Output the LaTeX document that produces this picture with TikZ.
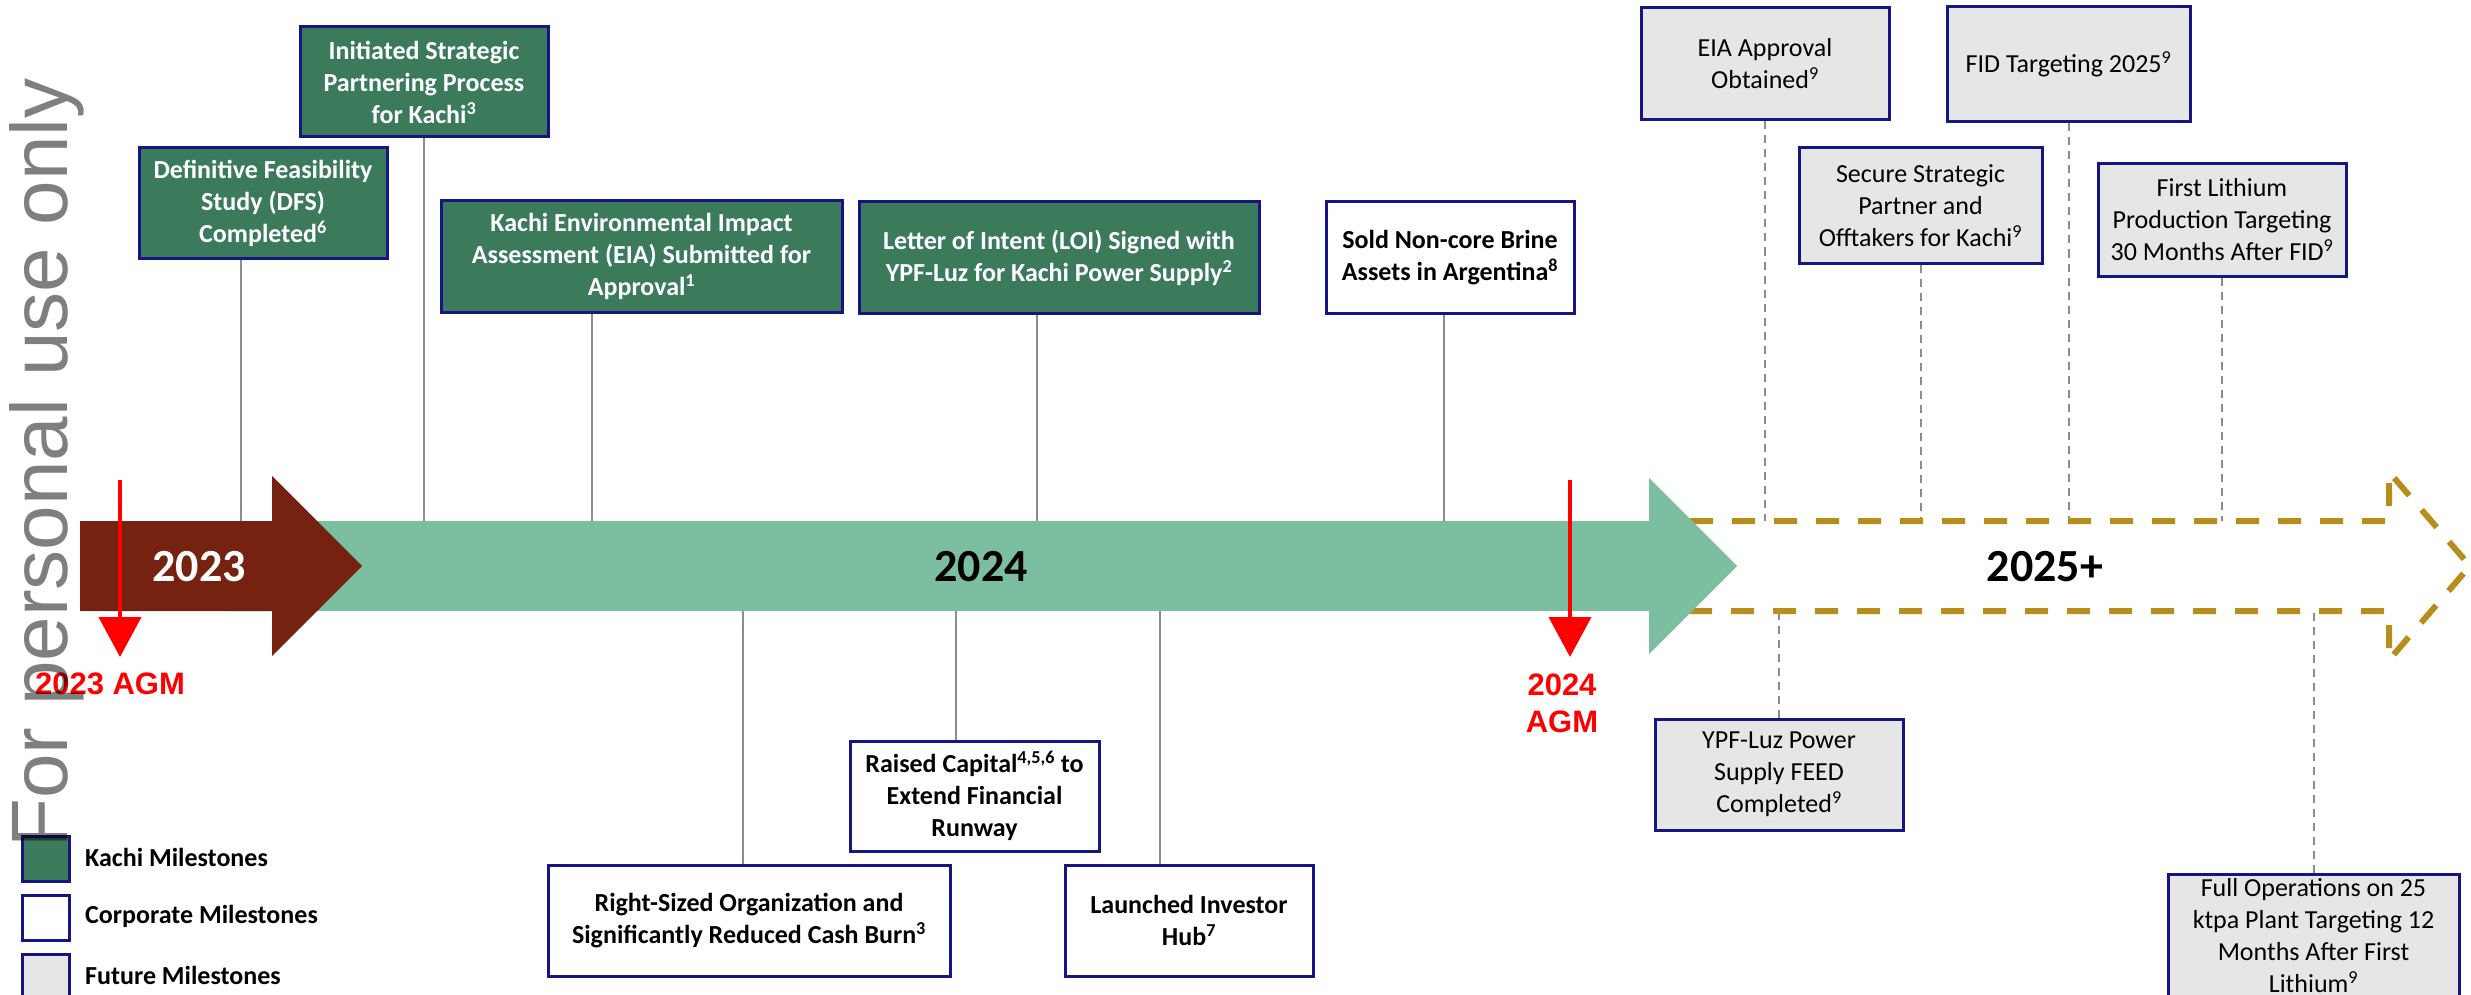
\documentclass[tikz,border=0pt]{standalone}
\usepackage{fontspec}
\setmainfont{Carlito}
\newfontfamily\calfam{Carlito}
\newfontfamily\arfam{Liberation Sans}
\usetikzlibrary{arrows.meta}
\definecolor{kgreen}{RGB}{59,123,92}
\definecolor{bargreen}{RGB}{123,191,160}
\definecolor{brownarr}{RGB}{117,35,16}
\definecolor{navyb}{RGB}{22,22,130}
\definecolor{fgray}{RGB}{230,230,230}
\definecolor{cgray}{RGB}{140,140,140}
\definecolor{goldd}{RGB}{184,142,26}
\newcommand\boxbold{\calfam\bfseries\fontsize{26}{32}\selectfont}
\newcommand\boxreg{\calfam\fontsize{26}{32}\selectfont}
\newcommand\yearfont{\calfam\bfseries\fontsize{46}{52}\selectfont}
\newcommand\agmfont{\arfam\bfseries\fontsize{31}{37}\selectfont}
\newcommand\wmfont{\arfam\fontsize{80}{96}\selectfont}
\tikzset{
  mbox/.style={draw=navyb, line width=3pt, align=center, inner sep=0pt},
  kachi/.style={mbox, fill=kgreen, text=white, font=\boxbold},
  corp/.style={mbox, fill=white, text=black, font=\boxbold},
  future/.style={mbox, fill=fgray, text=black, font=\boxreg},
  conn/.style={draw=cgray, line width=2pt},
  dconn/.style={draw=cgray, line width=2pt, dash pattern=on 8pt off 6pt},
  redarr/.style={draw=red, line width=4pt, -{Triangle[width=42pt,length=40pt]}},
  legbox/.style={draw=navyb, line width=3pt, minimum width=47pt, minimum height=45pt, inner sep=0pt},
  legtxt/.style={anchor=west, font=\boxbold, text=black, inner sep=0pt},
}
\begin{document}
\begin{tikzpicture}[x=1pt,y=-1pt]
\useasboundingbox (0,0) rectangle (2471,995);
% reference coordinates
\coordinate (bartop) at (0,521);
\coordinate (barbot) at (0,611);
\coordinate (dtop) at (0,521);
\coordinate (dbot) at (0,611);

% ---- boxes (defined first for names, drawn on top later via layering order)
% Kachi
\node[kachi, minimum width=248pt, minimum height=110pt] (dfs) at (263,203) {Definitive Feasibility\\Study (DFS)\\Completed\textsuperscript{6}};
\node[kachi, minimum width=248pt, minimum height=110pt] (isp) at (424,82) {Initiated Strategic\\Partnering Process\\for Kachi\textsuperscript{3}};
\node[kachi, minimum width=401pt, minimum height=111pt] (eia) at (641.5,256.5) {Kachi Environmental Impact\\Assessment (EIA) Submitted for\\Approval\textsuperscript{1}};
\node[kachi, minimum width=400pt, minimum height=111pt] (loi) at (1059,257.5) {Letter of Intent (LOI) Signed with\\YPF-Luz for Kachi Power Supply\textsuperscript{2}};
% Corporate
\node[corp, minimum width=248pt, minimum height=111pt] (sold) at (1450,257.5) {Sold Non-core Brine\\Assets in Argentina\textsuperscript{8}};
\node[corp, minimum width=402pt, minimum height=111pt] (rso) at (749,920.5) {Right-Sized Organization and\\Significantly Reduced Cash Burn\textsuperscript{3}};
\node[corp, minimum width=249pt, minimum height=110pt] (rc) at (974.5,796) {Raised Capital\textsuperscript{4,5,6} to\\Extend Financial\\Runway};
\node[corp, minimum width=248pt, minimum height=111pt] (lih) at (1189,920.5) {Launched Investor\\Hub\textsuperscript{7}};
% Future
\node[future, minimum width=248pt, minimum height=112pt] (eiaa) at (1765,64) {EIA Approval\\Obtained\textsuperscript{9}};
\node[future, minimum width=243pt, minimum height=115pt] (fid) at (2068.5,64.5) {FID Targeting 2025\textsuperscript{9}};
\node[future, minimum width=243pt, minimum height=115pt] (ssp) at (1920.5,205.5) {Secure Strategic\\Partner and\\Offtakers for Kachi\textsuperscript{9}};
\node[future, minimum width=248pt, minimum height=112pt] (fli) at (2222,220) {First Lithium\\Production Targeting\\30 Months After FID\textsuperscript{9}};
\node[future, minimum width=248pt, minimum height=111pt] (ypf) at (1779,774.5) {YPF-Luz Power\\Supply FEED\\Completed\textsuperscript{9}};
\node[future, minimum width=291pt, minimum height=123pt] (fop) at (2313.5,935.5) {Full Operations on 25\\ktpa Plant Targeting 12\\Months After First\\Lithium\textsuperscript{9}};

% ---- connectors
\path ([xshift=-22pt]dfs.south) coordinate (c1);
\path ([xshift=-50pt]eia.south) coordinate (c3);
\path ([xshift=-22pt]loi.south) coordinate (c4);
\path ([xshift=-6pt]sold.south) coordinate (c5);
\path ([xshift=-6pt]rso.north) coordinate (c6);
\path ([xshift=-19pt]rc.north) coordinate (c7);
\path ([xshift=-29pt]lih.north) coordinate (c8);
\draw[conn] (c1) -- (c1 |- bartop);
\draw[conn] (isp.south) -- (isp.south |- bartop);
\draw[conn] (c3) -- (c3 |- bartop);
\draw[conn] (c4) -- (c4 |- bartop);
\draw[conn] (c5) -- (c5 |- bartop);
\draw[conn] (c6) -- (c6 |- barbot);
\draw[conn] (c7) -- (c7 |- barbot);
\draw[conn] (c8) -- (c8 |- barbot);
\draw[dconn] (eiaa.south) -- (eiaa.south |- dtop);
\draw[dconn] (fid.south) -- (fid.south |- dtop);
\draw[dconn] (ssp.south) -- (ssp.south |- dtop);
\draw[dconn] (fli.south) -- (fli.south |- dtop);
\draw[dconn] (ypf.north) -- (ypf.north |- dbot);
\draw[dconn] (fop.north) -- (fop.north |- dbot);

% ---- timeline arrows
\draw[goldd, line width=6pt, dash pattern=on 23pt off 19pt]
  (1690,521) -- (2389,521) -- (2389,472) -- (2470,566) -- (2389,660) -- (2389,611) -- (1690,611);
\fill[bargreen] (230,521) -- (1649,521) -- (1649,478) -- (1737,566) -- (1649,654) -- (1649,611) -- (230,611) -- cycle;
\fill[brownarr] (80,521) -- (272,521) -- (272,476) -- (362,566) -- (272,656) -- (272,611) -- (80,611) -- cycle;
\node[font=\yearfont, text=white, inner sep=0pt] (y23) at (199,567) {2023};
\node[font=\yearfont, text=black, inner sep=0pt] (y24) at (981,567) {2024};
\node[font=\yearfont, text=black, inner sep=0pt] (y25) at (2045,567) {2025+};

% ---- redraw boxes on top (same nodes) -- boxes already drawn before arrows; arrows do not overlap them

% ---- AGM markers
\coordinate (a1s) at (120,480);
\coordinate (a1e) at (120,657);
\coordinate (a2s) at (1570,480);
\coordinate (a2e) at (1570,657);
\draw[redarr] (a1s) -- (a1e);
\draw[redarr] (a2s) -- (a2e);
\node[font=\agmfont, text=red, inner sep=0pt] (agm1) at (110,684) {2023 AGM};
\node[font=\agmfont, text=red, inner sep=0pt, align=center] (agm2) at (1562,703) {2024\\AGM};

% ---- legend
\node[legbox, fill=kgreen] (lk) at (45.5,858.5) {};
\node[legbox, fill=white] (lc) at (45.5,917.5) {};
\node[legbox, fill=fgray] (lf) at (45.5,976.5) {};
\node[legtxt] (lkt) at (85,857) {Kachi Milestones};
\node[legtxt] (lct) at (85,916) {Corporate Milestones};
\node[legtxt] (lft) at (85,975) {Future Milestones};

% ---- watermark
\node[rotate=90, anchor=base west, font=\wmfont, text=black, text opacity=0.5, inner sep=0pt] (wm) at (67,848) {For personal use only};
\end{tikzpicture}
\end{document}
